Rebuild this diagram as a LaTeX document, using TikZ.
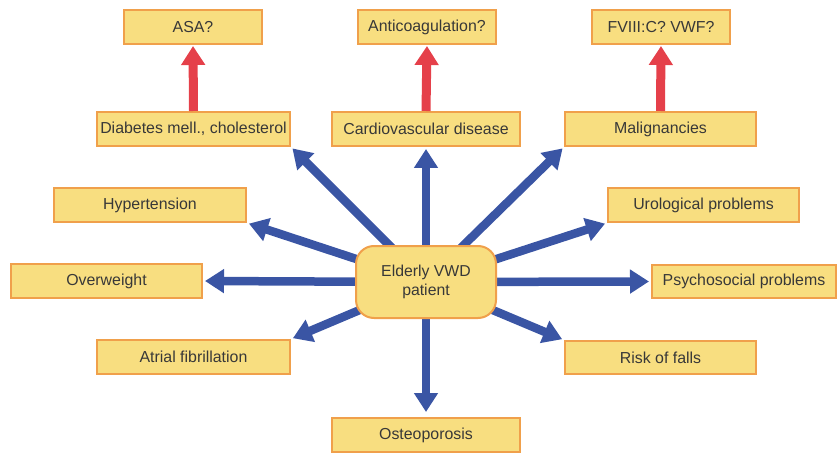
\documentclass[tikz,border=0pt]{standalone}
\usepackage{fontspec}
\setmainfont{Liberation Sans}
\usetikzlibrary{arrows.meta,backgrounds}
\definecolor{boxfill}{HTML}{F8DE80}
\definecolor{boxline}{HTML}{F0A04B}
\definecolor{arrblue}{HTML}{3A55A4}
\definecolor{arrred}{HTML}{E5404A}
\definecolor{txt}{HTML}{383838}
\tikzset{
  box/.style={draw=boxline, line width=2pt, fill=boxfill, inner sep=0pt,
    minimum height=34pt, text=txt, font=\fontsize{15.9}{18}\selectfont},
  hub/.style={box, rounded corners=18pt, minimum width=140pt, minimum height=72pt,
    align=center, font=\fontsize{15.8}{19}\selectfont},
  bluearr/.style={draw=arrblue, line width=8.5pt,
    -{Triangle[width=23pt,length=19pt]}, shorten >=2pt},
  redarr/.style={draw=arrred, line width=9pt,
    -{Triangle[width=23pt,length=19pt]}, shorten >=1pt},
}
\begin{document}
\begin{tikzpicture}[x=1pt,y=-1pt]
\useasboundingbox (0,0) rectangle (837,454);
% top row
\node[box, minimum width=138pt] (asa) at (193,27) {ASA?};
\node[box, minimum width=138pt] (anti) at (427,27) {Anticoagulation?};
\node[box, minimum width=138pt] (fviii) at (661,27) {FVIII:C? VWF?};
% second row
\node[box, minimum width=193pt] (dia) at (193.5,129) {Diabetes mell., cholesterol};
\node[box, minimum width=188pt] (card) at (426,129) {Cardiovascular disease};
\node[box, minimum width=191pt] (mal) at (660.5,129) {Malignancies};
% third row
\node[box, minimum width=192pt] (hyp) at (150,205) {Hypertension};
\node[box, minimum width=191pt] (uro) at (703.5,205) {Urological problems};
% fourth row
\node[box, minimum width=191pt] (ovw) at (106.5,281) {Overweight};
\node[box, minimum width=184pt, minimum height=33pt] (psy) at (744,281.5) {Psychosocial problems};
% fifth row
\node[box, minimum width=193pt] (atr) at (193.5,357) {Atrial fibrillation};
\node[box, minimum width=191pt, minimum height=33pt] (risk) at (660.5,357.5) {Risk of falls};
% bottom
\node[box, minimum width=188pt] (ost) at (426,435) {Osteoporosis};
% hub
\node[hub] (c) at (426,282) {Elderly VWD\\patient};
\begin{scope}[on background layer]
\draw[bluearr] (c.center) -- (card.south);
\draw[bluearr] (c.center) -- (dia.south east);
\draw[bluearr] (c.center) -- (mal.south west);
\draw[bluearr] (c.center) -- (hyp.south east);
\draw[bluearr] (c.center) -- (uro.south west);
\draw[bluearr] (c.center) -- (ovw.east);
\draw[bluearr] (c.center) -- (psy.west);
\draw[bluearr] (c.center) -- (atr.north east);
\draw[bluearr] (c.center) -- (risk.north west);
\draw[bluearr, shorten >=5pt] (c.center) -- (ost.north);
\end{scope}
\draw[redarr] (dia.north) -- (asa.south);
\draw[redarr] (card.north) -- (anti.south);
\draw[redarr] (mal.north) -- (fviii.south);
\end{tikzpicture}
\end{document}
